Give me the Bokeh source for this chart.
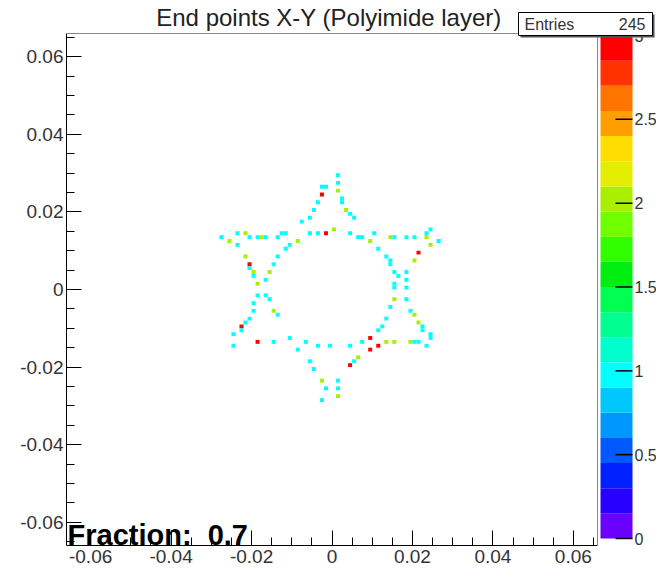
from bokeh.plotting import figure
from bokeh.models import (LinearColorMapper, FixedTicker, Range1d, ColumnDataSource,
                          CustomJSTickFormatter)
from bokeh.core.properties import value
from bokeh.transform import transform
from bokeh.embed import file_html
from bokeh.resources import INLINE

# ---- data (bin centres in metres, bin content) ----
x_vals = [-0.0025, -0.0025, -0.0035, -0.0045, -0.0055, -0.0075, -0.0035, -0.0055, -0.0085, -0.0105,
          -0.0115, -0.0135, -0.0145, -0.0275, -0.0235, -0.0255, -0.0235, -0.0215, -0.0205, -0.0185,
          -0.0175, -0.0165, -0.0135, -0.0125, -0.0115, -0.0215, -0.0205, -0.0205, 0.0015, 0.0015,
          0.0015, 0.0025, 0.0025, 0.0035, 0.0045, 0.0055, -0.0015, 0.0005, 0.0045, 0.0065,
          0.0075, 0.0095, 0.0105, 0.0115, 0.0135, 0.0145, 0.0145, 0.0155, 0.0185, 0.0205,
          0.0235, 0.0245, 0.0245, 0.0265, 0.0215, 0.0205, -0.0015, -0.0195, -0.0195, -0.0155,
          -0.0165, -0.0185, -0.0185, -0.0195, -0.0165, -0.0155, -0.0195, -0.0205, -0.0215, -0.0145,
          -0.0135, -0.0225, -0.0225, -0.0245, -0.0245, -0.0185, -0.0145, -0.0105, -0.0085, -0.0065,
          -0.0035, -0.0055, -0.0045, -0.0025, -0.0025, 0.0155, 0.0155, 0.0185, 0.0185, 0.0155,
          0.0185, 0.0195, 0.0205, 0.0215, 0.0225, 0.0245, 0.0235, 0.0195, 0.0205, 0.0215,
          0.0155, 0.0135, 0.0125, 0.0115, 0.0095, 0.0075, 0.0115, 0.0095, 0.0065, 0.0055,
          0.0045, 0.0045, -0.0005, 0.0015, 0.0015, 0.0015, -0.0015, 0.0185, 0.0165, 0.0145,
          0.0155, 0.0225, 0.0245, 0.0235, 0.0145, 0.0135]
y_vals = [0.0265, 0.0245, 0.0225, 0.0205, 0.0185, 0.0175, 0.0145, 0.0145, 0.0125, 0.0115,
          0.0105, 0.0085, 0.0065, 0.0135, 0.0145, 0.0125, 0.0115, 0.0145, 0.0135, 0.0135,
          0.0135, 0.0135, 0.0135, 0.0145, 0.0145, 0.0085, 0.0065, 0.0055, 0.0295, 0.0275,
          0.0255, 0.0235, 0.0225, 0.0205, 0.0195, 0.0185, 0.0145, 0.0155, 0.0145, 0.0135,
          0.0135, 0.0125, 0.0145, 0.0105, 0.0085, 0.0075, 0.0135, 0.0135, 0.0135, 0.0135,
          0.0145, 0.0155, 0.0115, 0.0125, 0.0095, 0.0075, 0.0265, 0.0045, 0.0035, 0.0045,
          0.0025, 0.0015, -0.0015, -0.0035, -0.0015, -0.0025, -0.0055, -0.0075, -0.0085, -0.0055,
          -0.0065, -0.0095, -0.0105, -0.0115, -0.0145, -0.0135, -0.0135, -0.0125, -0.0155, -0.0135,
          -0.0145, -0.0185, -0.0205, -0.0235, -0.0285, 0.0045, 0.0015, 0.0025, 0.0005, -0.0025,
          -0.0025, -0.0055, -0.0065, -0.0085, -0.0105, -0.0125, -0.0145, -0.0135, -0.0135, -0.0135,
          -0.0135, -0.0135, -0.0095, -0.0105, -0.0125, -0.0135, -0.0145, -0.0155, -0.0175, -0.0185,
          -0.0195, -0.0145, -0.0145, -0.0235, -0.0255, -0.0275, -0.0255, 0.0045, 0.0035, 0.0065,
          0.0005, -0.0095, -0.0115, 0.0135, -0.0045, -0.0075]
counts = [1, 3, 1, 1, 1, 1, 1, 1, 2, 1,
          1, 1, 1, 1, 1, 2, 1, 2, 1, 1,
          2, 1, 1, 1, 1, 2, 3, 1, 1, 1,
          2, 1, 1, 2, 1, 1, 3, 2, 1, 1,
          1, 2, 1, 1, 1, 1, 2, 1, 1, 1,
          1, 1, 2, 1, 3, 2, 1, 2, 1, 2,
          1, 2, 1, 1, 1, 1, 1, 1, 1, 2,
          1, 3, 1, 1, 1, 3, 1, 1, 1, 1,
          1, 1, 1, 2, 1, 1, 1, 1, 1, 2,
          1, 1, 2, 2, 1, 1, 1, 2, 1, 1,
          2, 2, 1, 1, 3, 1, 3, 3, 2, 1,
          3, 1, 1, 1, 1, 2, 1, 1, 1, 1,
          1, 1, 1, 2, 1, 1]

bin_width = 0.001
axis_range = 0.066
axis_ticks = [-0.06, -0.04, -0.02, 0.0, 0.02, 0.04, 0.06]
minor_ticks = [round(-0.065 + 0.005 * i, 3) for i in range(27)]
z_max = 3.0
cb_ticks = [0, 0.5, 1, 1.5, 2, 2.5, 3]
cb_labels = ["0", "0.5", "1", "1.5", "2", "2.5", "3"]
entries = 245
title_text = "End points X-Y (Polyimide layer)"
fraction_text = "Fraction:\u00a0 0.7"

# ROOT-like palette, 20 contours, bottom (0) to top (3)
palette = ["#6a00ff", "#2800ff", "#0020ff", "#0058ff", "#0098ff", "#00c8ff", "#00ffff",
           "#00ffcc", "#00ff90", "#00ff50", "#00ee10", "#30ff00", "#70ff00", "#aaee00",
           "#e4ee00", "#ffdd00", "#ff9e00", "#ff7400", "#ff3200", "#ff0000"]
n_cont = len(palette)

FONT = "Liberation Sans"

# ---- layout (canvas pixels) ----
W, H = 656, 568
L, B = 66, 545          # frame left / bottom (canvas)
R, T = 597, 33          # data-area right / top (canvas)
bar_l, bar_r, bar_t, bar_b = 600, 632, 35, 538

x_end = -axis_range + 2 * axis_range * (W - L) / (R - L)
y_end = -axis_range + 2 * axis_range * B / (B - T)

src = ColumnDataSource(dict(x=x_vals, y=y_vals, c=counts))
mapper = LinearColorMapper(palette=palette, low=0, high=z_max)

p = figure(width=W, height=H, x_range=Range1d(-axis_range, x_end),
           y_range=Range1d(-axis_range, y_end), output_backend="svg",
           toolbar_location=None, min_border_left=L, min_border_top=0,
           min_border_bottom=H - B, min_border_right=0)
p.extra_x_ranges = {"px": Range1d(L, W)}
p.extra_y_ranges = {"py": Range1d(B, 0)}
p.background_fill_color = "white"
p.border_fill_color = "white"
p.outline_line_color = None
p.grid.visible = False

# histogram cells
p.rect(x="x", y="y", width=bin_width, height=bin_width, source=src,
       fill_color=transform("c", mapper), line_color=None)

# axes
fmt = CustomJSTickFormatter(code="return Math.abs(tick) < 1e-9 ? '0' : tick.toFixed(2);")
for ax in (p.xaxis, p.yaxis):
    ax.ticker = FixedTicker(ticks=axis_ticks, minor_ticks=minor_ticks)
    ax.bounds = (-axis_range, axis_range)
    ax.formatter = fmt
    ax.major_tick_in = 15
    ax.major_tick_out = 0
    ax.minor_tick_in = 8
    ax.minor_tick_out = 0
    ax.axis_line_color = "black"
    ax.major_tick_line_color = "black"
    ax.minor_tick_line_color = "black"
    ax.major_label_text_font = FONT
    ax.major_label_text_font_size = "19px"
    ax.major_label_text_color = "#333333"
    ax.major_label_standoff = 3
p.xaxis.major_label_standoff = 4

# frame border (top and right)
p.segment(x0=[L, R], y0=[T, T], x1=[R, R], y1=[T, B], line_color="#888888", line_width=1,
          x_range_name="px", y_range_name="py")

# colour scale
lev_px = [bar_b - (i / n_cont) * (bar_b - bar_t) for i in range(n_cont + 1)]
p.quad(left=bar_l, right=bar_r, bottom=lev_px[:-1], top=lev_px[1:], fill_color=palette,
       line_color=None, x_range_name="px", y_range_name="py")
tick_px = [bar_b - t / z_max * (bar_b - bar_t) for t in cb_ticks]
p.segment(x0=bar_r - 17, x1=bar_r, y0=tick_px, y1=tick_px, line_color="black", line_width=1.5,
          x_range_name="px", y_range_name="py")
p.text(x=bar_r + 2, y=tick_px, text=cb_labels, text_align="left", text_baseline="middle",
       text_font=value(FONT), text_font_size=value("16px"), text_color="#333333",
       x_range_name="px", y_range_name="py")

# title
p.text(x=[(L + R) / 2 - 3], y=[17], text=[title_text], text_align="center",
       text_baseline="middle", text_font=value(FONT), text_font_size=value("24px"),
       text_color="#222222", x_range_name="px", y_range_name="py")

# statistics box
p.quad(left=[520], right=[654], top=[14], bottom=[37], fill_color="#555555", line_color=None,
       x_range_name="px", y_range_name="py")
p.quad(left=[518], right=[652], top=[12], bottom=[35], fill_color="white", line_color="black",
       line_width=1, x_range_name="px", y_range_name="py")
p.text(x=[524], y=[23.5], text=["Entries"], text_align="left", text_baseline="middle",
       text_font=value(FONT), text_font_size=value("16px"), text_color="#333333",
       x_range_name="px", y_range_name="py")
p.text(x=[645], y=[23.5], text=[str(entries)], text_align="right", text_baseline="middle",
       text_font=value(FONT), text_font_size=value("16px"), text_color="#333333",
       x_range_name="px", y_range_name="py")

# fraction label
p.text(x=[L + 1], y=[B - 11], text=[fraction_text], text_align="left",
       text_baseline="middle", text_font=value(FONT), text_font_style="bold",
       text_font_size=value("29px"), text_color="black",
       x_range_name="px", y_range_name="py")

open("out.html", "w").write(file_html(p, INLINE))
